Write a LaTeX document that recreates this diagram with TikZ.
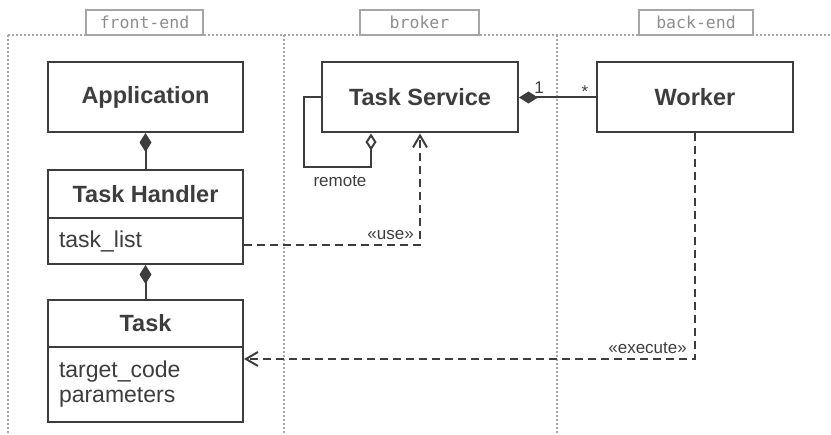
\documentclass[tikz,border=0pt]{standalone}
\usepackage{fontspec}
\setmainfont{Liberation Sans}
\newfontfamily\monofont{DejaVu Sans Mono}
\usetikzlibrary{arrows.meta}

\definecolor{ink}{HTML}{3D3D3D}
\definecolor{zone}{HTML}{A6A6A6}
\definecolor{zonetext}{HTML}{8E8E8E}

\tikzset{
  classbox/.style={draw=ink, line width=2pt, fill=white, inner sep=0pt,
    minimum width=195pt, text=ink},
  titlebox/.style={classbox, font=\fontsize{23.5}{26}\selectfont\bfseries},
  attrbox/.style={classbox, text width=173pt, inner xsep=11pt, align=left,
    font=\fontsize{23}{25}\selectfont},
  link/.style={draw=ink, line width=2pt},
  dep/.style={link, dash pattern=on 8pt off 5pt,
    -{Straight Barb[length=12pt,width=14pt,line width=2pt]}},
  compo/.style={{Diamond[length=19pt,width=12pt,fill=ink]}-},
  aggr/.style={{Diamond[open,length=17pt,width=11pt,fill=white]}-},
  small/.style={text=ink, inner sep=0pt, font=\fontsize{17}{19}\selectfont},
  zoneline/.style={draw=zone, line width=1.2pt, dash pattern=on 2pt off 2pt},
  zonetag/.style={draw=zone, line width=2pt, fill=white, text=zonetext,
    minimum height=25pt, inner sep=0pt, font=\monofont\fontsize{16.5}{18}\selectfont}
}

\begin{document}
\begin{tikzpicture}[x=1pt,y=-1pt]
\useasboundingbox (0,0) rectangle (831,435);

% zone separators
\coordinate (ztl) at (8,35);
\coordinate (ztr) at (831,35);
\coordinate (zb1) at (8,435);
\coordinate (zt2) at (284,35);
\coordinate (zb2) at (284,435);
\coordinate (zt3) at (557,35);
\coordinate (zb3) at (557,435);
\draw[zoneline] (ztl) -- (ztr);
\draw[zoneline] (ztl) -- (zb1);
\draw[zoneline] (zt2) -- (zb2);
\draw[zoneline] (zt3) -- (zb3);

\node[zonetag, minimum width=117pt] (zfront) at (144.5,22.5) {front-end};
\node[zonetag, minimum width=119pt] (zbroker) at (419.5,22.5) {broker};
\node[zonetag, minimum width=114pt] (zback) at (696,22.5) {back-end};

% classes
\node[titlebox, minimum height=70pt] (app) at (145.5,97) {Application};
\node[titlebox, minimum height=48pt] (thT) at (145.5,194) {Task Handler};
\node[attrbox, minimum height=46pt] (thA) at (145.5,241) {task\_list};
\node[titlebox, minimum height=47pt] (tkT) at (145.5,323.5) {Task};
\node[attrbox, minimum height=75pt] (tkA) at (145.5,384.5) {target\_code\\parameters};

\node[titlebox, minimum width=196pt, minimum height=70pt] (ts) at (420,97.5) {Task Service};
\node[titlebox, minimum width=196pt, minimum height=70pt] (wk) at (695,97.5) {Worker};

% compositions
\draw[link, compo] (app.south) -- (thT.north);
\draw[link, compo] (thA.south) -- (tkT.north);
\draw[link, compo] (ts.east) -- (wk.west);
\node[small] (one) at (539,88) {1};
\node[small] (many) at (585,92) {*};

% self aggregation of the task service
\coordinate (loop) at (304,167);
\draw[link, aggr] ([xshift=-49pt]ts.south) |- (loop) |- (ts.west);
\node[small] (remote) at (340,181) {remote};

% dependencies
\draw[dep] ([yshift=-4pt]thA.east) -| (ts.south);
\node[small, anchor=east] (use) at (414,235) {«use»};

\draw[dep] (wk.south) |- ([yshift=25.5pt]tkA.east);
\node[small, anchor=east] (exec) at (687,348) {«execute»};
\end{tikzpicture}
\end{document}
